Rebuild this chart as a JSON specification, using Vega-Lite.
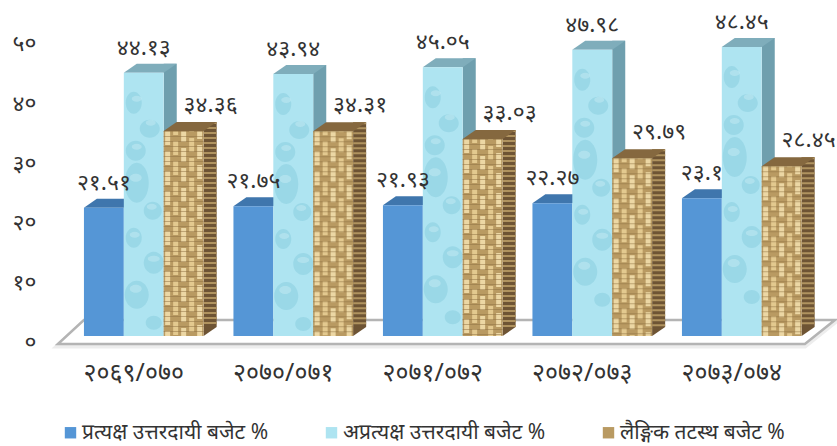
{
"$schema":"https://vega.github.io/schema/vega-lite/v6.json",
"width":747.5,"height":334,"autosize":{"type":"none"},
"padding":{"left":69,"right":20.5,"top":2,"bottom":110},
"background":"white",
"config":{"view":{"stroke":null},"font":"Noto Sans"},
"data":{"values":[
{"year":"२०६९/०७०","series":"प्रत्यक्ष उत्तरदायी बजेट %","value":21.51,"label":"२१.५१"},
{"year":"२०६९/०७०","series":"अप्रत्यक्ष उत्तरदायी बजेट %","value":44.13,"label":"४४.१३"},
{"year":"२०६९/०७०","series":"लैङ्गिक तटस्थ बजेट %","value":34.36,"label":"३४.३६"},
{"year":"२०७०/०७१","series":"प्रत्यक्ष उत्तरदायी बजेट %","value":21.75,"label":"२१.७५"},
{"year":"२०७०/०७१","series":"अप्रत्यक्ष उत्तरदायी बजेट %","value":43.94,"label":"४३.९४"},
{"year":"२०७०/०७१","series":"लैङ्गिक तटस्थ बजेट %","value":34.31,"label":"३४.३१"},
{"year":"२०७१/०७२","series":"प्रत्यक्ष उत्तरदायी बजेट %","value":21.93,"label":"२१.९३"},
{"year":"२०७१/०७२","series":"अप्रत्यक्ष उत्तरदायी बजेट %","value":45.05,"label":"४५.०५"},
{"year":"२०७१/०७२","series":"लैङ्गिक तटस्थ बजेट %","value":33.03,"label":"३३.०३"},
{"year":"२०७२/०७३","series":"प्रत्यक्ष उत्तरदायी बजेट %","value":22.27,"label":"२२.२७"},
{"year":"२०७२/०७३","series":"अप्रत्यक्ष उत्तरदायी बजेट %","value":47.98,"label":"४७.९८"},
{"year":"२०७२/०७३","series":"लैङ्गिक तटस्थ बजेट %","value":29.79,"label":"२९.७९"},
{"year":"२०७३/०७४","series":"प्रत्यक्ष उत्तरदायी बजेट %","value":23.1,"label":"२३.१"},
{"year":"२०७३/०७४","series":"अप्रत्यक्ष उत्तरदायी बजेट %","value":48.45,"label":"४८.४५"},
{"year":"२०७३/०७४","series":"लैङ्गिक तटस्थ बजेट %","value":28.45,"label":"२८.४५"}
]},
"encoding":{
"x":{"field":"year","type":"nominal","sort":null,"title":null,"scale":{"paddingInner":0.2,"paddingOuter":0.1},
"axis":{"domain":false,"ticks":false,"labelAngle":0,"labelFontSize":25,"labelFontWeight":"normal","labelColor":"#333","labelPadding":24,"labelOffset":-10,"grid":false}},
"xOffset":{"field":"series","type":"nominal","sort":["प्रत्यक्ष उत्तरदायी बजेट %","अप्रत्यक्ष उत्तरदायी बजेट %","लैङ्गिक तटस्थ बजेट %"],"scale":{"paddingInner":0,"paddingOuter":0}},
"y":{"field":"value","type":"quantitative","title":null,"scale":{"domain":[0,56],"nice":false},
"axis":{"values":[0,10,20,30,40,50],"domain":false,"ticks":false,"grid":false,"labelFontSize":23,"labelColor":"#333","labelPadding":33,"labelOffset":6,
"labelExpr":"{'0':'०','10':'१०','20':'२०','30':'३०','40':'४०','50':'५०'}[datum.label]"}}
},
"layer":[
{"transform":[{"filter":"datum.series=='प्रत्यक्ष उत्तरदायी बजेट %' && datum.year=='२०६९/०७०'"}],
 "mark":{"type":"point","filled":true,"size":4,"opacity":1,"fill":"#ededed","strokeWidth":5,"stroke":"#ededed","shape":"M-46,10L701,10L731,-14L-20,-14Z","clip":false},
 "encoding":{"y":{"datum":0,"type":"quantitative"}}},
{"transform":[{"filter":"datum.series=='प्रत्यक्ष उत्तरदायी बजेट %' && datum.year=='२०६९/०७०'"}],
 "mark":{"type":"point","filled":true,"size":4,"opacity":1,"fill":"#ffffff","strokeWidth":2.5,"stroke":"#b4b4b4","shape":"M-46,8L701,8L731,-16L-20,-16Z","clip":false},
 "encoding":{"y":{"datum":0,"type":"quantitative"}}},

{"transform":[{"filter":"indexof(datum.series,'प्रत्यक्ष')==0"}],
 "mark":{"type":"point","filled":true,"size":4,"opacity":1,"fill":"#3f76ad","shape":"M-20,0L20,0L33,-9L-7,-9Z"}},
{"transform":[{"filter":"indexof(datum.series,'प्रत्यक्ष')==0"}],
 "mark":{"type":"bar"},
 "encoding":{"color":{"field":"series","type":"nominal","title":null,
  "scale":{"domain":["प्रत्यक्ष उत्तरदायी बजेट %","अप्रत्यक्ष उत्तरदायी बजेट %","लैङ्गिक तटस्थ बजेट %"],"range":["#5596d6","#aee4f1","#b99a62"]},
  "legend":{"orient":"none","legendX":-9,"legendY":420,"direction":"horizontal","columns":3,"columnPadding":52,"symbolType":"square","symbolSize":130,"symbolOpacity":1,"labelFontSize":21,"labelColor":"#333","labelOffset":1,"labelLimit":300,"padding":0}}}},

{"transform":[{"filter":"indexof(datum.series,'अप्रत्यक्ष')==0"}],
 "mark":{"type":"rule","color":"#6f9fae","strokeWidth":13,"xOffset":26.5,"yOffset":-9,"y2Offset":-9},
 "encoding":{"xOffset":null,"y2":{"datum":0}}},
{"transform":[{"filter":"indexof(datum.series,'अप्रत्यक्ष')==0"}],
 "mark":{"type":"point","filled":true,"size":4,"opacity":1,"fill":"#6f9fae","shape":"M20,0L20,-9L33,-9Z"},
 "encoding":{"y":{"datum":0,"type":"quantitative"}}},
{"transform":[{"filter":"indexof(datum.series,'अप्रत्यक्ष')==0"}],
 "mark":{"type":"point","filled":true,"size":4,"opacity":1,"fill":"#7fadbb","shape":"M-20,0L20,0L33,-9L-7,-9Z"}},
{"transform":[{"filter":"indexof(datum.series,'अप्रत्यक्ष')==0"}],
 "mark":{"type":"bar"},
 "encoding":{"color":{"field":"series","type":"nominal","title":null}}},
{"transform":[{"filter":"indexof(datum.series,'अप्रत्यक्ष')==0"}],
 "mark":{"type":"point","filled":true,"size":4,"opacity":0.3,"fill":"#6cbdd2",
 "shape":"M-18,30a8,11 0 1,0 16,0a8,11 0 1,0 -16,0ZM-4,56a10,9 0 1,0 20,0a10,9 0 1,0 -20,0ZM-18,78a10,10 0 1,0 20,0a10,10 0 1,0 -20,0ZM-19,110a12,20 0 1,0 24,0a12,20 0 1,0 -24,0ZM0,138a9,9 0 1,0 18,0a9,9 0 1,0 -18,0ZM-18,165a8,10 0 1,0 16,0a8,10 0 1,0 -16,0ZM0,190a10,11 0 1,0 20,0a10,11 0 1,0 -20,0ZM-19,222a12,14 0 1,0 24,0a12,14 0 1,0 -24,0ZM2,250a8,7 0 1,0 16,0a8,7 0 1,0 -16,0Z"}},
{"transform":[{"filter":"indexof(datum.series,'अप्रत्यक्ष')==0"}],
 "mark":{"type":"point","filled":true,"size":4,"opacity":0.35,"fill":"#d8f4fa",
 "shape":"M-12,26a5,3 0 1,0 10,0a5,3 0 1,0 -10,0ZM2,50a5,3 0 1,0 10,0a5,3 0 1,0 -10,0ZM-12,74a5,3 0 1,0 10,0a5,3 0 1,0 -10,0ZM-14,105a6,4 0 1,0 12,0a6,4 0 1,0 -12,0ZM3,134a5,3 0 1,0 10,0a5,3 0 1,0 -10,0ZM-14,162a5,3 0 1,0 10,0a5,3 0 1,0 -10,0ZM4,186a6,3 0 1,0 12,0a6,3 0 1,0 -12,0ZM-14,216a6,4 0 1,0 12,0a6,4 0 1,0 -12,0Z"}},

{"transform":[{"filter":"indexof(datum.series,'लैङ्गिक')==0"}],
 "mark":{"type":"rule","color":"#6e5434","strokeWidth":13,"xOffset":66.4,"yOffset":-9,"y2Offset":-9},
 "encoding":{"xOffset":null,"y2":{"datum":0}}},
{"transform":[{"filter":"indexof(datum.series,'लैङ्गिक')==0"}],
 "mark":{"type":"rule","color":"#b0935f","strokeWidth":13,"strokeDash":[2,3],"xOffset":66.4,"yOffset":-9,"y2Offset":-9},
 "encoding":{"xOffset":null,"y2":{"datum":0}}},
{"transform":[{"filter":"indexof(datum.series,'लैङ्गिक')==0"}],
 "mark":{"type":"point","filled":true,"size":4,"opacity":1,"fill":"#6e5434","shape":"M20,0L20,-9L33,-9Z"},
 "encoding":{"y":{"datum":0,"type":"quantitative"}}},
{"transform":[{"filter":"indexof(datum.series,'लैङ्गिक')==0"}],
 "mark":{"type":"point","filled":true,"size":4,"opacity":1,"fill":"#85683f","shape":"M-20,0L20,0L33,-9L-7,-9Z"}},
{"transform":[{"filter":"indexof(datum.series,'लैङ्गिक')==0"}],
 "mark":{"type":"bar"},
 "encoding":{"color":{"field":"series","type":"nominal","title":null}}},
{"transform":[{"filter":"indexof(datum.series,'लैङ्गिक')==0"}],
 "mark":{"type":"rule","color":"#ecd7a4","strokeWidth":5,"strokeDash":[14,6],"xOffset":23.9},"encoding":{"xOffset":null,"y2":{"datum":0}}},
{"transform":[{"filter":"indexof(datum.series,'लैङ्गिक')==0"}],
 "mark":{"type":"rule","color":"#e3c98f","strokeWidth":5,"strokeDash":[14,6],"strokeDashOffset":10,"xOffset":31.9},"encoding":{"xOffset":null,"y2":{"datum":0}}},
{"transform":[{"filter":"indexof(datum.series,'लैङ्गिक')==0"}],
 "mark":{"type":"rule","color":"#ecd7a4","strokeWidth":5,"strokeDash":[14,6],"strokeDashOffset":3,"xOffset":39.9},"encoding":{"xOffset":null,"y2":{"datum":0}}},
{"transform":[{"filter":"indexof(datum.series,'लैङ्गिक')==0"}],
 "mark":{"type":"rule","color":"#e3c98f","strokeWidth":5,"strokeDash":[14,6],"strokeDashOffset":13,"xOffset":47.9},"encoding":{"xOffset":null,"y2":{"datum":0}}},
{"transform":[{"filter":"indexof(datum.series,'लैङ्गिक')==0"}],
 "mark":{"type":"rule","color":"#ecd7a4","strokeWidth":5,"strokeDash":[14,6],"strokeDashOffset":6,"xOffset":55.9},"encoding":{"xOffset":null,"y2":{"datum":0}}},
{"transform":[{"filter":"indexof(datum.series,'लैङ्गिक')==0"}],
 "mark":{"type":"rule","color":"#8d6f42","opacity":0.5,"strokeWidth":40,"strokeDash":[1,4],"xOffset":39.9},"encoding":{"xOffset":null,"y2":{"datum":0}}},

{"transform":[{"filter":"indexof(datum.series,'प्रत्यक्ष')==0"}],
 "mark":{"type":"text","fontSize":23,"color":"#333","yOffset":-25},"encoding":{"text":{"field":"label"}}},
{"transform":[{"filter":"indexof(datum.series,'अप्रत्यक्ष')==0"}],
 "mark":{"type":"text","fontSize":23,"color":"#333","yOffset":-25},"encoding":{"text":{"field":"label"}}},
{"transform":[{"filter":"indexof(datum.series,'लैङ्गिक')==0"}],
 "mark":{"type":"text","fontSize":23,"color":"#333","yOffset":-26,"dx":27},"encoding":{"text":{"field":"label"}}}
]
}
